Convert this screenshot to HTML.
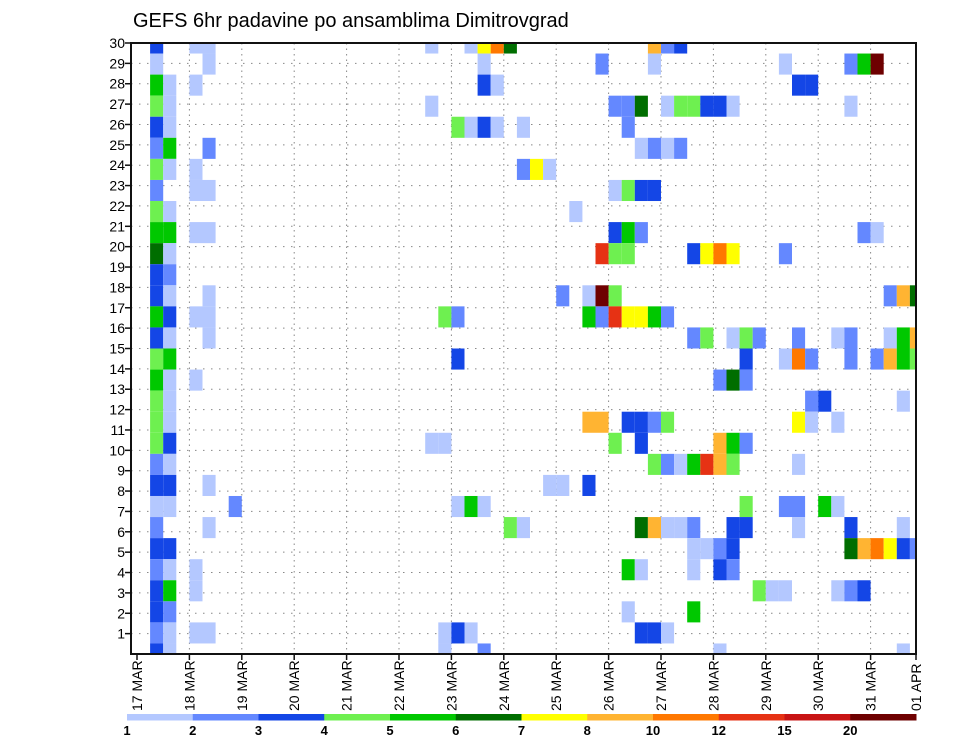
<!DOCTYPE html>
<html><head><meta charset="utf-8"><style>
html,body{margin:0;padding:0;background:#fff;}
svg{display:block;font-family:"Liberation Sans",sans-serif;}
</style></head><body>
<svg id="chart" width="960" height="742" viewBox="0 0 960 742">
<text x="133" y="27" font-size="20" fill="#000">GEFS 6hr padavine po ansamblima Dimitrovgrad</text>
<defs><clipPath id="plotclip"><rect x="131" y="43" width="785" height="611"/></clipPath></defs>
<g id="grid"></g>
<g id="cells" clip-path="url(#plotclip)"></g>
<rect x="131" y="43" width="785" height="611" fill="none" stroke="#111" stroke-width="2"/>
<g id="yaxis"></g>
<g id="xaxis"></g>
<g id="legend"></g>
</svg>
<script>
// member row labels (top of axis = 30)
const memberLabels = [30,29,28,27,26,25,24,23,22,21,20,19,18,17,16,15,14,13,12,11,10,9,8,7,6,5,4,3,2,1];
// day labels
const dayLabels = ["17 MAR","18 MAR","19 MAR","20 MAR","21 MAR","22 MAR","23 MAR","24 MAR","25 MAR","26 MAR","27 MAR","28 MAR","29 MAR","30 MAR","31 MAR","01 APR"];
// colour bar thresholds (mm)
const levels = [1,2,3,4,5,6,7,8,10,12,15,20];
const levelColors = ["#b4c8ff","#6488ff","#1446e6","#6ef050","#00c800","#006e00","#ffff00","#ffb432","#ff7800","#e63214","#c81414","#6e0000"];
// precipitation cells per ensemble row (top to bottom): [6h step, mm]
const row0 = [[1,3.5],[4,1.5],[5,1.5],[22,1.5],[25,1.5],[26,7.5],[27,11],[28,6.5],[39,9],[40,2.5],[41,3.5]];
const row1 = [[1,1.5],[5,1.5],[26,1.5],[35,2.5],[39,1.5],[49,1.5],[54,2.5],[55,5.5],[56,22]];
const row2 = [[1,5.5],[2,1.5],[4,1.5],[26,3.5],[27,1.5],[50,3.5],[51,3.5]];
const row3 = [[1,4.5],[2,1.5],[22,1.5],[36,2.5],[37,2.5],[38,6.5],[40,1.5],[41,4.5],[42,4.5],[43,3.5],[44,3.5],[45,1.5],[54,1.5]];
const row4 = [[1,3.5],[2,1.5],[24,4.5],[25,1.5],[26,3.5],[27,1.5],[29,1.5],[37,2.5]];
const row5 = [[1,2.5],[2,5.5],[5,2.5],[38,1.5],[39,2.5],[40,1.5],[41,2.5]];
const row6 = [[1,4.5],[2,1.5],[4,1.5],[29,2.5],[30,7.5],[31,1.5]];
const row7 = [[1,2.5],[4,1.5],[5,1.5],[36,1.5],[37,4.5],[38,3.5],[39,3.5]];
const row8 = [[1,4.5],[2,1.5],[33,1.5]];
const row9 = [[1,5.5],[2,5.5],[4,1.5],[5,1.5],[36,3.5],[37,5.5],[38,2.5],[55,2.5],[56,1.5]];
const row10 = [[1,6.5],[2,1.5],[35,13],[36,4.5],[37,4.5],[42,3.5],[43,7.5],[44,11],[45,7.5],[49,2.5]];
const row11 = [[1,3.5],[2,2.5]];
const row12 = [[1,3.5],[2,1.5],[5,1.5],[32,2.5],[34,1.5],[35,22],[36,4.5],[57,2.5],[58,9],[59,6.5]];
const row13 = [[1,5.5],[2,3.5],[4,1.5],[5,1.5],[23,4.5],[24,2.5],[34,5.5],[35,2.5],[36,13],[37,7.5],[38,7.5],[39,5.5],[40,2.5]];
const row14 = [[1,3.5],[2,1.5],[5,1.5],[42,2.5],[43,4.5],[45,1.5],[46,4.5],[47,2.5],[50,2.5],[53,1.5],[54,2.5],[57,1.5],[58,5.5],[59,9]];
const row15 = [[1,4.5],[2,5.5],[24,3.5],[46,3.5],[49,1.5],[50,11],[51,2.5],[54,2.5],[56,2.5],[57,9],[58,5.5],[59,4.5]];
const row16 = [[1,5.5],[2,1.5],[4,1.5],[44,2.5],[45,6.5],[46,2.5]];
const row17 = [[1,4.5],[2,1.5],[51,2.5],[52,3.5],[58,1.5]];
const row18 = [[1,4.5],[2,1.5],[34,9],[35,9],[37,3.5],[38,3.5],[39,2.5],[40,4.5],[50,7.5],[51,1.5],[53,1.5]];
const row19 = [[1,4.5],[2,3.5],[22,1.5],[23,1.5],[36,4.5],[38,3.5],[44,9],[45,5.5],[46,2.5]];
const row20 = [[1,2.5],[2,1.5],[39,4.5],[40,2.5],[41,1.5],[42,5.5],[43,13],[44,9],[45,4.5],[50,1.5]];
const row21 = [[1,3.5],[2,3.5],[5,1.5],[31,1.5],[32,1.5],[34,3.5]];
const row22 = [[1,1.5],[2,1.5],[7,2.5],[24,1.5],[25,5.5],[26,1.5],[46,4.5],[49,2.5],[50,2.5],[52,5.5],[53,1.5]];
const row23 = [[1,2.5],[5,1.5],[28,4.5],[29,1.5],[38,6.5],[39,9],[40,1.5],[41,1.5],[42,2.5],[45,3.5],[46,3.5],[50,1.5],[54,3.5],[58,1.5]];
const row24 = [[1,3.5],[2,3.5],[42,1.5],[43,1.5],[44,2.5],[45,3.5],[54,6.5],[55,9],[56,11],[57,7.5],[58,3.5],[59,2.5]];
const row25 = [[1,2.5],[2,1.5],[4,1.5],[37,5.5],[38,1.5],[42,1.5],[44,3.5],[45,2.5]];
const row26 = [[1,3.5],[2,5.5],[4,1.5],[47,4.5],[48,1.5],[49,1.5],[53,1.5],[54,2.5],[55,3.5]];
const row27 = [[1,3.5],[2,2.5],[37,1.5],[42,5.5]];
const row28 = [[1,2.5],[2,1.5],[4,1.5],[5,1.5],[23,1.5],[24,3.5],[25,1.5],[38,3.5],[39,3.5],[40,1.5]];
const row29 = [[1,3.5],[2,1.5],[23,1.5],[26,2.5],[44,1.5],[58,1.5]];
const ensembleRows = [row0,row1,row2,row3,row4,row5,row6,row7,row8,row9,row10,row11,row12,row13,row14,row15,row16,row17,row18,row19,row20,row21,row22,row23,row24,row25,row26,row27,row28,row29];

const NS = "http://www.w3.org/2000/svg";
const PX0 = 131, PX1 = 916, PY0 = 43, PY1 = 654;
const stepW = 13.1, dayW = 52.4, xOrigin = 137;
function xStep(k){ return xOrigin + k*stepW; }
function xDay(d){ return Math.min(xOrigin + d*dayW, PX1); }
function yCell(j){ return PY0 + j*(PY1-PY0)/(ensembleRows.length-1); }
function yLabel(i){ return PY0 + i*(PY1-PY0)/memberLabels.length; }
function colorFor(v){ let c = null; for(let i=0;i<levels.length;i++){ if(v>=levels[i]) c = levelColors[i]; } return c; }
function mk(tag, attrs, parent){ const e = document.createElementNS(NS, tag); for(const k in attrs) e.setAttribute(k, attrs[k]); parent.appendChild(e); return e; }

const grid = document.getElementById('grid');
const cells = document.getElementById('cells');
const yaxis = document.getElementById('yaxis');
const xaxis = document.getElementById('xaxis');
const legend = document.getElementById('legend');

for(let i=0;i<memberLabels.length;i++){
  const y = yLabel(i);
  if(i>0){
    const l = mk('line',{x1:PX0,x2:PX1,y1:y,y2:y,stroke:'#888','stroke-width':1,'stroke-dasharray':'1.5,6.5'},grid);
    
    
  }
  const t = mk('line',{x1:PX0-6,x2:PX0,y1:y,y2:y,stroke:'#111','stroke-width':1.5},yaxis);
  
  
  const tx = mk('text',{x:PX0-6,y:y+5,'font-size':14,'text-anchor':'end',fill:'#000'},yaxis);
  tx.textContent = memberLabels[i];
  
  
}
for(let d=0; d<dayLabels.length; d++){
  const x = xDay(d);
  if(d>0 && x<PX1-2){
    const l = mk('line',{x1:x,x2:x,y1:PY0,y2:PY1,stroke:'#888','stroke-width':1,'stroke-dasharray':'1.5,4'},grid);
    
    
  }
  const tk = mk('line',{x1:x,x2:x,y1:PY1,y2:PY1+6,stroke:'#111','stroke-width':1.5},xaxis);
  
  
  const tx = mk('text',{x:0,y:0,'font-size':14,fill:'#000',transform:'translate('+(x+5)+','+(PY1+57)+') rotate(-90)'},xaxis);
  tx.textContent = dayLabels[d];
  
  
}
const hCell = (PY1-PY0)/(ensembleRows.length-1);
ensembleRows.forEach((row, j) => {
  row.forEach(([k, v]) => {
    const r = mk('rect',{x:xStep(k),y:yCell(j)-hCell/2,width:stepW,height:hCell,fill:colorFor(v)},cells);
    
    
  });
});
const cbX0 = 127, cbX1 = 916, cbW = (cbX1-cbX0)/levels.length;
levels.forEach((lv, i) => {
  const r = mk('rect',{x:cbX0+i*cbW,y:714,width:cbW+0.5,height:6.5,fill:levelColors[i]},legend);
  
  
  const t = mk('text',{x:cbX0+i*cbW,y:735,'font-size':13,'font-weight':'bold','text-anchor':'middle',fill:'#000'},legend);
  t.textContent = lv;
  
  
});
</script>
</body></html>
